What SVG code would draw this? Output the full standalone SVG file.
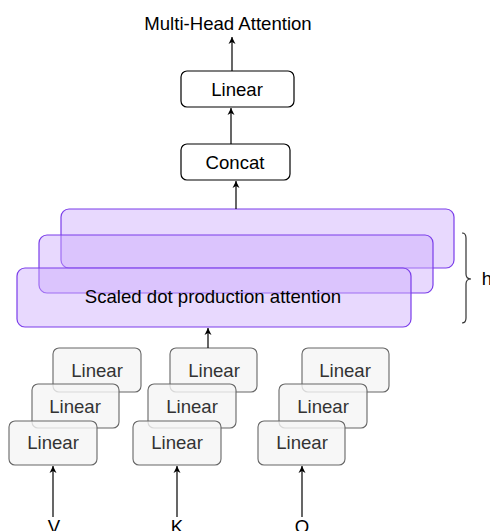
<svg xmlns="http://www.w3.org/2000/svg" width="490" height="531" viewBox="0 0 490 531">
<defs>
<style>
.t{font-family:"Liberation Sans",Arial,sans-serif;font-size:18.6px;fill:#000;text-anchor:middle}
.box{fill:#fff;stroke:#000;stroke-width:1.2}
.sda{fill:#ccaafc;fill-opacity:0.45;stroke:#7a3de9;stroke-width:1.2}
.lin{fill:#f5f5f5;fill-opacity:0.8;stroke:#666;stroke-width:1.1}
.lt{fill:#333}
.edge{fill:none;stroke:#000;stroke-width:1.2}
</style>
<marker id="ah" markerWidth="8" markerHeight="8" refX="7" refY="4" orient="auto" markerUnits="userSpaceOnUse">
<path d="M0,0.5 L7,4 L0,7.5 L2,4 Z" fill="#000"/>
</marker>
</defs>

<text class="t" x="228" y="30">Multi-Head Attention</text>

<g id="linear-out">
<rect class="box" x="181" y="71" width="113" height="36" rx="6"/>
<text class="t" x="237" y="96">Linear</text>
</g>

<g id="concat">
<rect class="box" x="181" y="144" width="109" height="36" rx="6"/>
<text class="t" x="235" y="169">Concat</text>
</g>

<g id="sda-3">
<rect class="sda" x="61" y="209" width="393" height="59" rx="8"/>
</g>
<g id="sda-2">
<rect class="sda" x="39" y="235" width="394" height="58" rx="8"/>
</g>
<g id="sda-1">
<rect class="sda" x="17" y="268" width="394" height="59" rx="8"/>
<text class="t" x="213" y="303">Scaled dot production attention</text>
</g>

<g id="brace">
<path d="M462,233 Q466,233 466,238 L466,274 Q466,279 471,279 Q466,279 466,284 L466,318 Q466,323 462,323" fill="none" stroke="#333" stroke-width="1.2"/>
<text class="t" x="487" y="285">h</text>
</g>

<g id="v-linear">
<rect class="lin" x="53" y="348" width="88" height="44" rx="6"/>
<text class="t lt" x="97" y="377">Linear</text>
<rect class="lin" x="32" y="384" width="87" height="44" rx="6"/>
<text class="t lt" x="75" y="413">Linear</text>
<rect class="lin" x="9" y="421" width="88" height="44" rx="6"/>
<text class="t lt" x="53" y="449">Linear</text>
</g>

<g id="k-linear">
<rect class="lin" x="170" y="348" width="87" height="44" rx="6"/>
<text class="t lt" x="214" y="377">Linear</text>
<rect class="lin" x="148" y="384" width="88" height="44" rx="6"/>
<text class="t lt" x="192" y="413">Linear</text>
<rect class="lin" x="133" y="421" width="88" height="44" rx="6"/>
<text class="t lt" x="177" y="449">Linear</text>
</g>

<g id="q-linear">
<rect class="lin" x="302" y="348" width="87" height="44" rx="6"/>
<text class="t lt" x="345" y="377">Linear</text>
<rect class="lin" x="279" y="384" width="88" height="44" rx="6"/>
<text class="t lt" x="323" y="413">Linear</text>
<rect class="lin" x="258" y="421" width="87" height="44" rx="6"/>
<text class="t lt" x="302" y="449">Linear</text>
</g>

<g id="inputs">
<text class="t" x="54" y="533">V</text>
<text class="t" x="177" y="533">K</text>
<text class="t" x="302" y="533">Q</text>
</g>

<g id="connectors">
<path class="edge" d="M232,71 L232,37" marker-end="url(#ah)"/>
<path class="edge" d="M231,144 L231,108" marker-end="url(#ah)"/>
<path class="edge" d="M236,209 L236,181" marker-end="url(#ah)"/>
<path class="edge" d="M208,348 L208,328" marker-end="url(#ah)"/>
<path class="edge" d="M53,517 L53,466" marker-end="url(#ah)"/>
<path class="edge" d="M177,517 L177,466" marker-end="url(#ah)"/>
<path class="edge" d="M302,517 L302,466" marker-end="url(#ah)"/>
</g>
</svg>
